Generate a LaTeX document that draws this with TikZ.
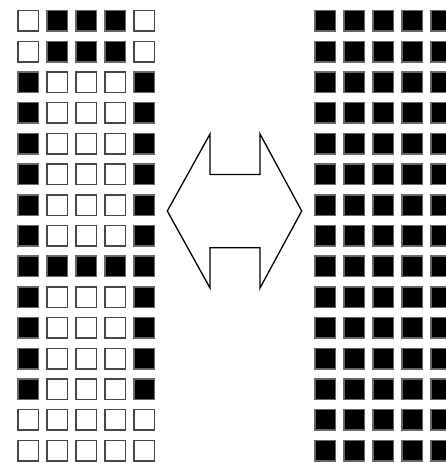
\documentclass[tikz,border=0pt]{standalone}
\usepackage{tikz}

\begin{document}
\begin{tikzpicture}[
        x=1pt, y=-1pt,
        cell/.style={rectangle, draw=black!72, line width=1.5pt,
            minimum size=20.5pt, inner sep=0pt},
        cell0/.style={cell, fill=white},
        cell1/.style={cell, fill=black, draw=black!60},
        swap/.style={draw, line width=1.3pt, line join=miter, fill=white}
    ]
        \useasboundingbox (0,0) rectangle (446,463);

        % left pattern
        \foreach \row [count=\r] in {{0,1,1,1,0},{0,1,1,1,0},{1,0,0,0,1},
                {1,0,0,0,1},{1,0,0,0,1},{1,0,0,0,1},{1,0,0,0,1},{1,0,0,0,1},
                {1,1,1,1,1},{1,0,0,0,1},{1,0,0,0,1},{1,0,0,0,1},{1,0,0,0,1},
                {0,0,0,0,0},{0,0,0,0,0}}{
            \foreach \v [count=\c] in \row {
                \node[cell\v] (l-\r-\c) at ({28.3+(\c-1)*29}, {20.8+(\r-1)*30.7}) {};
            }
        }

        % right pattern
        \foreach \r in {1,...,15}{
            \foreach \c in {1,...,5}{
                \node[cell1] (r-\r-\c) at ({325+(\c-1)*29}, {20.8+(\r-1)*30.7}) {};
            }
        }

        % double arrow
        \draw[swap] (167.3,211) -- (210,134) -- (210,174.5) -- (260,174.5)
            -- (260,134) -- (301.7,211) -- (260,288) -- (260,247.7)
            -- (210,247.7) -- (210,288) -- cycle;
    \end{tikzpicture}
\end{document}
